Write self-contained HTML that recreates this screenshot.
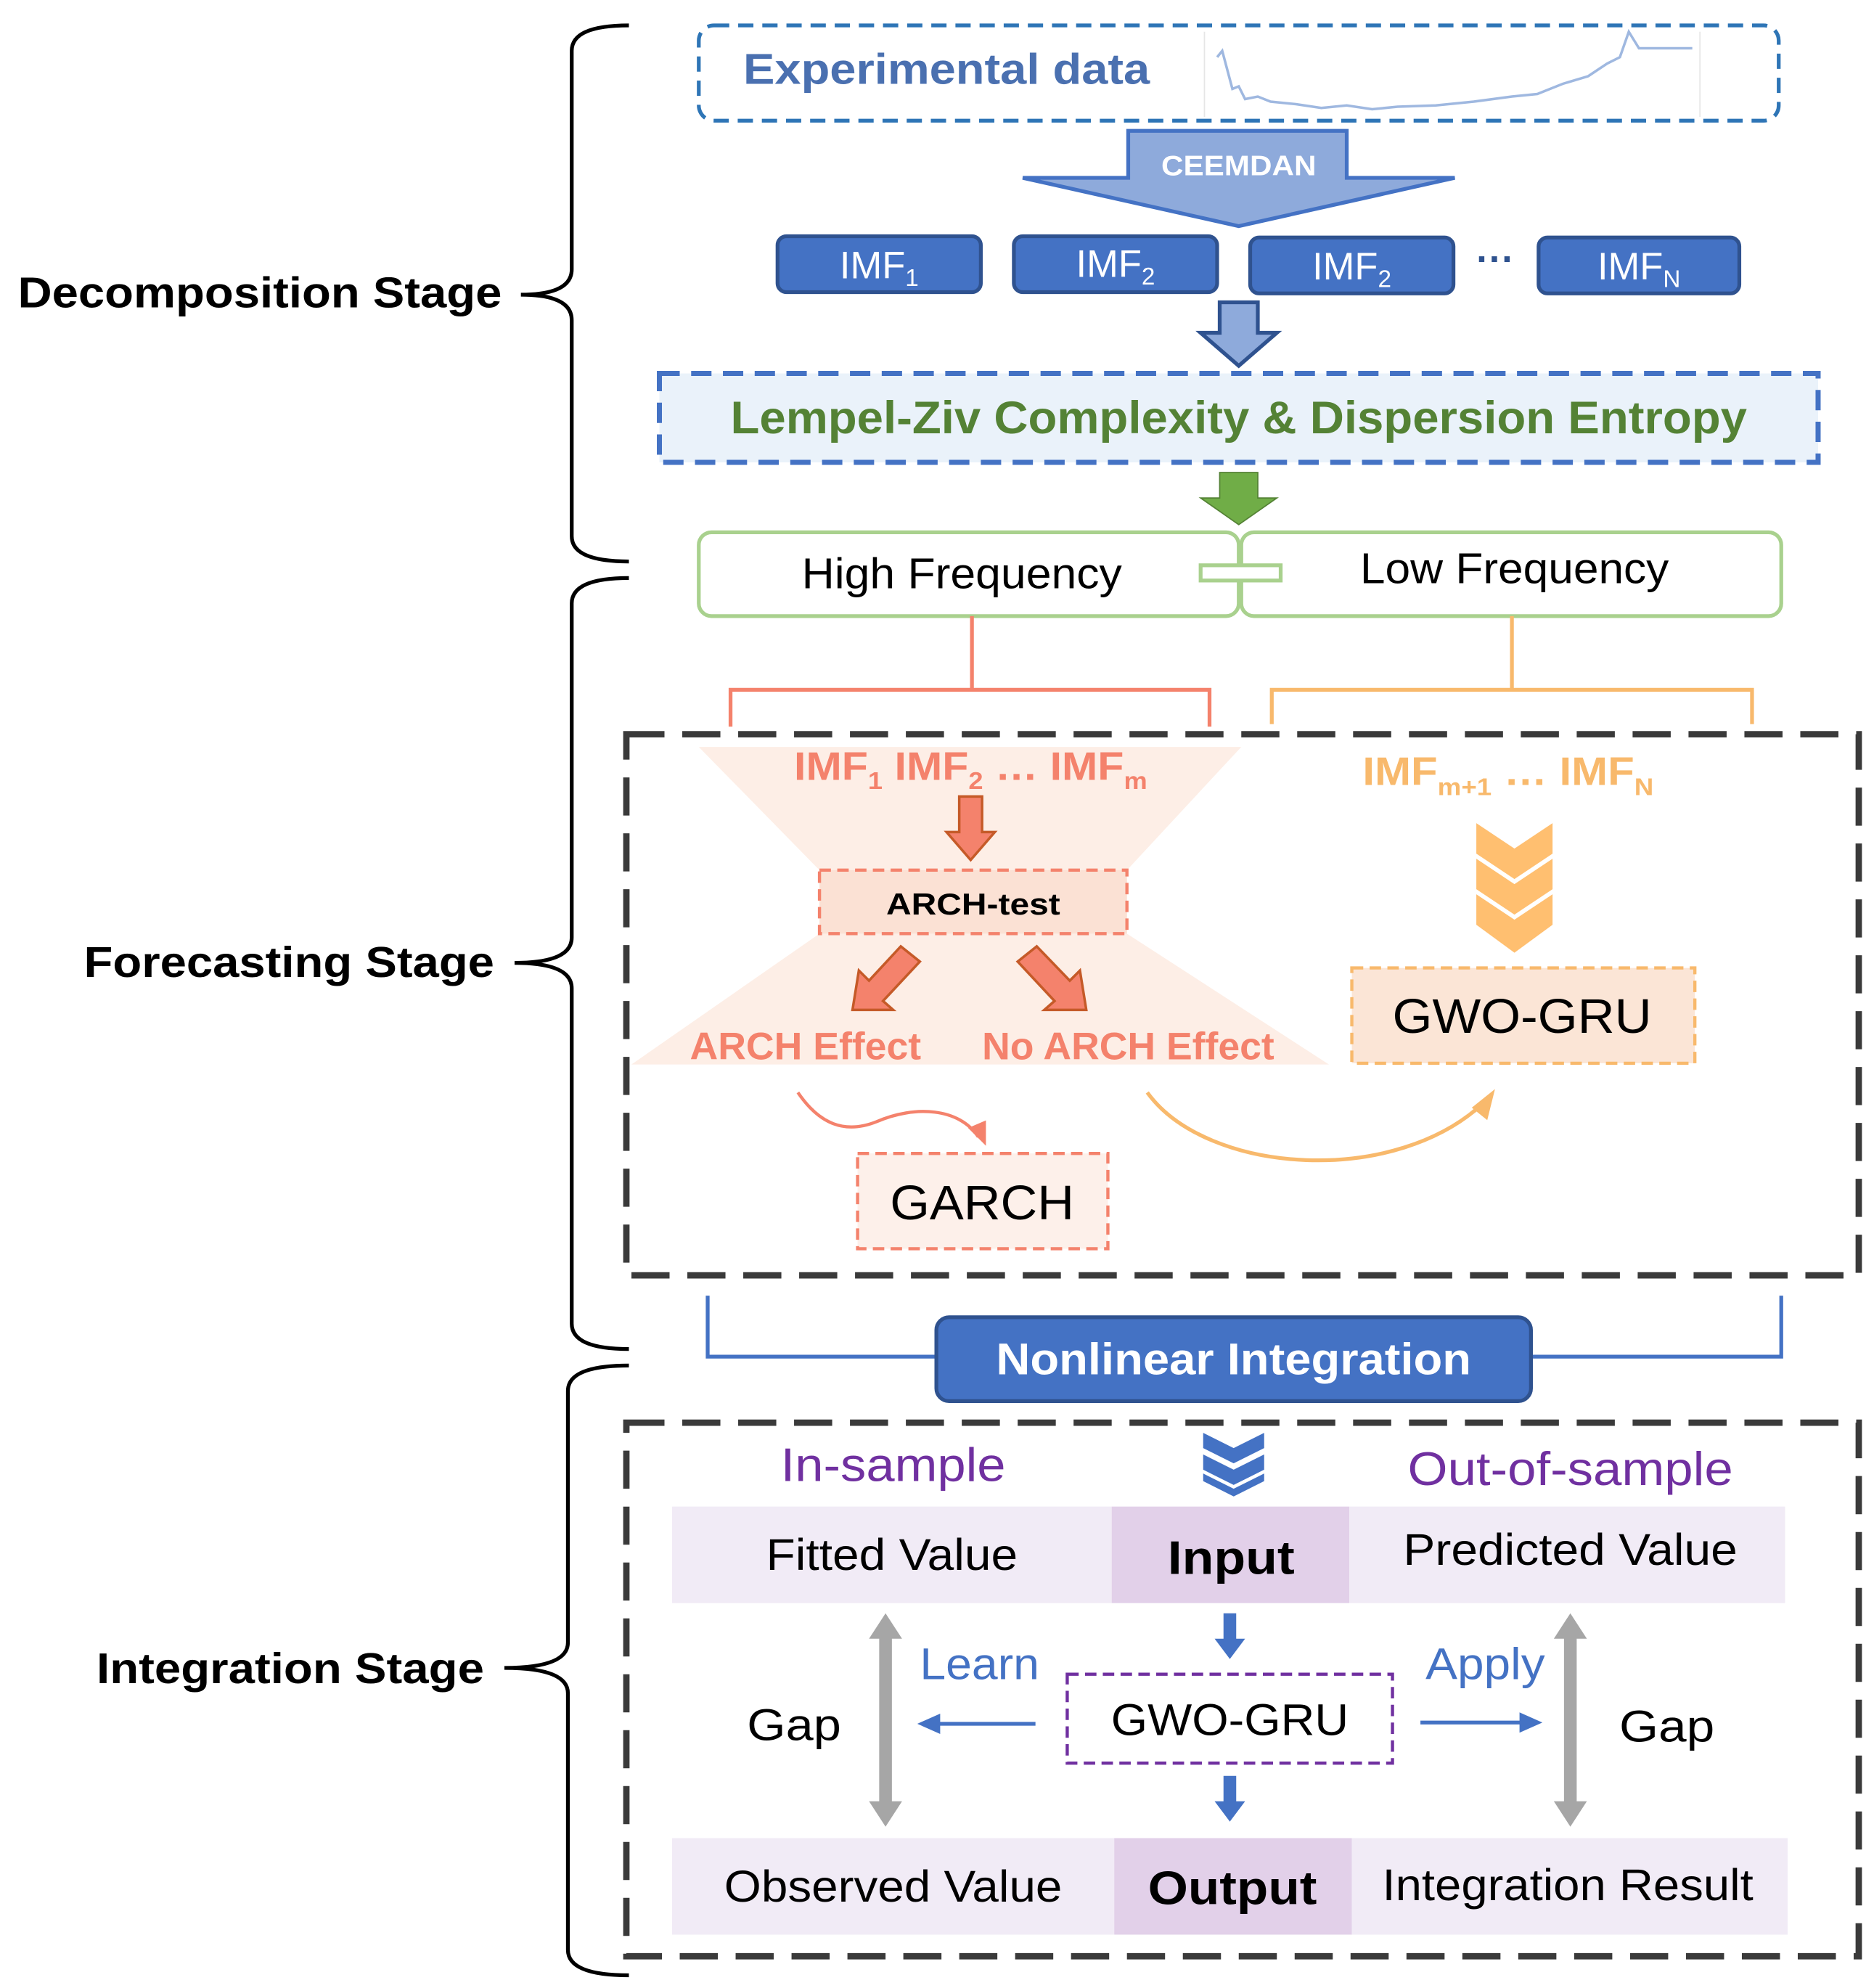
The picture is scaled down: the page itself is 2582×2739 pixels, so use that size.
<!DOCTYPE html>
<html><head><meta charset="utf-8"><style>
html,body{margin:0;padding:0;background:#fff}
svg{display:block}
text{font-family:"Liberation Sans",Arial,sans-serif}
</style></head><body>
<svg width="2582" height="2739" viewBox="0 0 1475 1565" preserveAspectRatio="none" xmlns="http://www.w3.org/2000/svg">
<!-- braces -->
<g fill="none" stroke="#000" stroke-width="3">
<path d="M495,20 Q450,20 450,40 L450,212 Q450,232 410,232 Q450,232 450,252 L450,422 Q450,442 495,442"/>
<path d="M495,455 Q450,455 450,475 L450,738 Q450,758 405,758 Q450,758 450,778 L450,1042 Q450,1062 495,1062"/>
<path d="M495,1075 Q447,1075 447,1095 L447,1293 Q447,1313 397,1313 Q447,1313 447,1333 L447,1535 Q447,1555 495,1555"/>
</g>
<g font-weight="bold" font-size="34" fill="#000" lengthAdjust="spacingAndGlyphs">
<text x="14" y="242" textLength="381" lengthAdjust="spacingAndGlyphs">Decomposition Stage</text>
<text x="66" y="769" textLength="323" lengthAdjust="spacingAndGlyphs">Forecasting Stage</text>
<text x="76" y="1325" textLength="305" lengthAdjust="spacingAndGlyphs">Integration Stage</text>
</g>
<!-- experimental data -->
<rect x="550" y="20" width="850" height="75" rx="12" fill="#fff" stroke="#2e75b6" stroke-width="3" stroke-dasharray="12 7"/>
<text x="585" y="66" font-size="34" font-weight="bold" fill="#4a70b0" textLength="320" lengthAdjust="spacingAndGlyphs">Experimental data</text>
<line x1="948" y1="25" x2="948" y2="92" stroke="#e6e6e6"/>
<line x1="1338" y1="25" x2="1338" y2="92" stroke="#e6e6e6"/>
<polyline fill="none" stroke="#9fb8e0" stroke-width="2" points="958,45 962,40 966,55 970,70 975,68 980,78 990,76 1000,80 1020,82 1040,85 1060,83 1080,86 1100,84 1130,83 1160,80 1190,76 1210,74 1230,66 1250,60 1265,50 1275,45 1282,25 1290,38 1310,38 1332,38"/>
<!-- CEEMDAN arrow -->
<polygon points="888,103 1060,103 1060,140 1145,140 975,178 805,140 888,140" fill="#8eaadb" stroke="#4472c4" stroke-width="3"/>
<text x="975" y="138" font-size="22" font-weight="bold" fill="#fff" text-anchor="middle" textLength="122" lengthAdjust="spacingAndGlyphs">CEEMDAN</text>
<!-- IMF boxes -->
<g fill="#4472c4" stroke="#2f528f" stroke-width="3">
<rect x="612" y="186" width="160" height="44" rx="7"/>
<rect x="798" y="186" width="160" height="44" rx="7"/>
<rect x="984" y="187" width="160" height="44" rx="7"/>
<rect x="1211" y="187" width="158" height="44" rx="7"/>
</g>
<g fill="#fff" font-size="30" text-anchor="middle">
<text x="692" y="219">IMF<tspan font-size="19" dy="6">1</tspan></text>
<text x="878" y="218">IMF<tspan font-size="19" dy="6">2</tspan></text>
<text x="1064" y="220">IMF<tspan font-size="19" dy="6">2</tspan></text>
<text x="1290" y="220">IMF<tspan font-size="19" dy="6">N</tspan></text>
</g>
<text x="1177" y="214" font-size="30" font-weight="bold" fill="#2f528f" text-anchor="middle">···</text>
<polygon points="960,238 990,238 990,262 1005,262 975,288 945,262 960,262" fill="#8eaadb" stroke="#2f528f" stroke-width="3"/>
<!-- Lempel -->
<rect x="519" y="294" width="912" height="70" fill="#eaf2fa" stroke="#4472c4" stroke-width="4" stroke-dasharray="16 9"/>
<text x="975" y="341" font-size="36" font-weight="bold" fill="#548235" text-anchor="middle" textLength="800" lengthAdjust="spacingAndGlyphs">Lempel-Ziv Complexity &amp; Dispersion Entropy</text>
<polygon points="960,372 990,372 990,392 1005,392 975,413 945,392 960,392" fill="#70ad47" stroke="#548235" stroke-width="1"/>
<!-- freq boxes -->
<rect x="550" y="419" width="425" height="66" rx="10" fill="#fff" stroke="#a9d18e" stroke-width="3"/>
<rect x="977" y="419" width="425" height="66" rx="10" fill="#fff" stroke="#a9d18e" stroke-width="3"/>
<rect x="945" y="445" width="63" height="12" fill="#fff" stroke="#a9d18e" stroke-width="3"/>
<text x="757" y="463" font-size="34" text-anchor="middle" textLength="252" lengthAdjust="spacingAndGlyphs">High Frequency</text>
<text x="1192" y="459" font-size="34" text-anchor="middle" textLength="243" lengthAdjust="spacingAndGlyphs">Low Frequency</text>
<polyline points="765,485 765,543 575,543 575,572" fill="none" stroke="#f4826c" stroke-width="3"/>
<polyline points="765,543 952,543 952,572" fill="none" stroke="#f4826c" stroke-width="3"/>
<polyline points="1190,485 1190,543 1001,543 1001,570" fill="none" stroke="#f8b96c" stroke-width="3"/>
<polyline points="1190,543 1379,543 1379,570" fill="none" stroke="#f8b96c" stroke-width="3"/>
<!-- forecasting box -->
<rect x="493" y="578" width="970" height="426" fill="none" stroke="#3a3a3a" stroke-width="5" stroke-dasharray="30 14"/>
<polygon points="550,588 977,588 887,685 887,735 1046,838 497,838 645,735 645,685" fill="#fdeee6"/>
<rect x="645" y="685" width="242" height="50" fill="#fbe1d4" stroke="#f4826c" stroke-width="2.5" stroke-dasharray="9 5"/>
<text x="766" y="720" font-size="24" font-weight="bold" text-anchor="middle" textLength="137" lengthAdjust="spacingAndGlyphs">ARCH-test</text>
<text x="764" y="614" font-size="31" font-weight="bold" fill="#f4826c" text-anchor="middle" textLength="278" lengthAdjust="spacingAndGlyphs">IMF<tspan font-size="19" dy="7">1</tspan><tspan dy="-7"> IMF</tspan><tspan font-size="19" dy="7">2</tspan><tspan dy="-7"> … IMF</tspan><tspan font-size="19" dy="7">m</tspan></text>
<polygon points="755,627 773,627 773,655 783,655 764,677 745,655 755,655" fill="#f4826c" stroke="#c55a28" stroke-width="2"/>
<polygon points="709,745 724,757 695,788 703,795 671,795 676,764 684,772" fill="#f4826c" stroke="#c55a28" stroke-width="2"/>
<polygon points="816,745 801,757 830,788 822,795 855,795 850,764 842,772" fill="#f4826c" stroke="#c55a28" stroke-width="2"/>
<text x="634" y="834" font-size="30" font-weight="bold" fill="#f4826c" text-anchor="middle" textLength="182" lengthAdjust="spacingAndGlyphs">ARCH Effect</text>
<text x="888" y="834" font-size="30" font-weight="bold" fill="#f4826c" text-anchor="middle" textLength="230" lengthAdjust="spacingAndGlyphs">No ARCH Effect</text>
<path d="M628,860 C645,885 665,893 690,883 C720,870 755,872 770,895" fill="none" stroke="#f4826c" stroke-width="2.5"/>
<polygon points="762,888 776,902 776,882" fill="#f4826c"/>
<path d="M903,860 C950,925 1100,935 1170,866" fill="none" stroke="#f8b96c" stroke-width="3"/>
<polygon points="1160,872 1175,860 1170,880" fill="#f8b96c" stroke="#f8b96c" stroke-width="2"/>
<rect x="675" y="908" width="197" height="75" fill="#fdf0ea" stroke="#f4826c" stroke-width="2.5" stroke-dasharray="9 5"/>
<text x="773" y="960" font-size="38" text-anchor="middle" textLength="145" lengthAdjust="spacingAndGlyphs">GARCH</text>
<text x="1187" y="618" font-size="31" font-weight="bold" fill="#f8b96c" text-anchor="middle" textLength="229" lengthAdjust="spacingAndGlyphs">IMF<tspan font-size="19" dy="8">m+1</tspan><tspan dy="-8"> … IMF</tspan><tspan font-size="19" dy="8">N</tspan></text>
<g fill="#ffbf70">
<polygon points="1162,648 1192,668 1222,648 1222,672 1192,692 1162,672"/>
<polygon points="1162,672 1192,692 1222,672 1222,696 1192,716 1162,696" transform="translate(0,4)"/>
<polygon points="1162,696 1192,716 1222,696 1222,720 1192,742 1162,720" transform="translate(0,8)"/>
</g>
<rect x="1064" y="762" width="270" height="75" fill="#fbe5d6" stroke="#f8b96c" stroke-width="2.5" stroke-dasharray="9 5"/>
<text x="1198" y="813" font-size="38" text-anchor="middle" textLength="204" lengthAdjust="spacingAndGlyphs">GWO-GRU</text>
<!-- nonlinear -->
<polyline points="557,1020 557,1068 1402,1068 1402,1020" fill="none" stroke="#4472c4" stroke-width="3"/>
<rect x="737" y="1037" width="468" height="66" rx="10" fill="#4472c4" stroke="#2f528f" stroke-width="3"/>
<text x="971" y="1082" font-size="35" font-weight="bold" fill="#fff" text-anchor="middle" textLength="374" lengthAdjust="spacingAndGlyphs">Nonlinear Integration</text>
<!-- integration box -->
<rect x="493" y="1120" width="970" height="420" fill="none" stroke="#3a3a3a" stroke-width="5" stroke-dasharray="30 14"/>
<g fill="#4472c4">
<polygon points="947,1128 971,1140 995,1128 995,1140 971,1152 947,1140"/>
<polygon points="947,1145 971,1157 995,1145 995,1157 971,1169 947,1157"/>
<polygon points="947,1160 971,1172 995,1160 995,1166 971,1178 947,1166"/>
</g>
<text x="703" y="1166" font-size="37" fill="#7030a0" text-anchor="middle" textLength="177" lengthAdjust="spacingAndGlyphs">In-sample</text>
<text x="1236" y="1169" font-size="37" fill="#7030a0" text-anchor="middle" textLength="256" lengthAdjust="spacingAndGlyphs">Out-of-sample</text>
<rect x="529" y="1186" width="346" height="76" fill="#f1ebf6"/>
<rect x="875" y="1186" width="187" height="76" fill="#e2d0e9"/>
<rect x="1062" y="1186" width="343" height="76" fill="#f1ebf6"/>
<rect x="529" y="1447" width="348" height="76" fill="#f1ebf6"/>
<rect x="877" y="1447" width="187" height="76" fill="#e2d0e9"/>
<rect x="1064" y="1447" width="343" height="76" fill="#f1ebf6"/>
<rect x="840" y="1318" width="256" height="70" fill="#fff" stroke="#7030a0" stroke-width="2.5" stroke-dasharray="9 5"/>
<g font-size="35" text-anchor="middle">
<text x="702" y="1236" textLength="198" lengthAdjust="spacingAndGlyphs">Fitted Value</text>
<text x="969" y="1239" font-weight="bold" font-size="37" textLength="100" lengthAdjust="spacingAndGlyphs">Input</text>
<text x="1236" y="1232" textLength="263" lengthAdjust="spacingAndGlyphs">Predicted Value</text>
<text x="703" y="1497" textLength="266" lengthAdjust="spacingAndGlyphs">Observed Value</text>
<text x="970" y="1499" font-weight="bold" font-size="37" textLength="133" lengthAdjust="spacingAndGlyphs">Output</text>
<text x="1234" y="1496" textLength="292" lengthAdjust="spacingAndGlyphs">Integration Result</text>
<text x="625" y="1370" textLength="74" lengthAdjust="spacingAndGlyphs">Gap</text>
<text x="1312" y="1371" textLength="75" lengthAdjust="spacingAndGlyphs">Gap</text>
<text x="968" y="1366" textLength="187" lengthAdjust="spacingAndGlyphs">GWO-GRU</text>
</g>
<g fill="#a6a6a6">
<polygon points="697,1270 710,1290 702,1290 702,1418 710,1418 697,1438 684,1418 692,1418 692,1290 684,1290"/>
<polygon points="1236,1270 1249,1290 1241,1290 1241,1418 1249,1418 1236,1438 1223,1418 1231,1418 1231,1290 1223,1290"/>
</g>
<g fill="#4472c4">
<polygon points="963,1270 973,1270 973,1290 980,1290 968,1306 956,1290 963,1290"/>
<polygon points="963,1398 973,1398 973,1418 980,1418 968,1434 956,1418 963,1418"/>
</g>
<text x="771" y="1322" font-size="35" fill="#4472c4" text-anchor="middle" textLength="94" lengthAdjust="spacingAndGlyphs">Learn</text>
<text x="1169" y="1322" font-size="35" fill="#4472c4" text-anchor="middle" textLength="94" lengthAdjust="spacingAndGlyphs">Apply</text>
<line x1="815" y1="1357" x2="735" y2="1357" stroke="#4472c4" stroke-width="3"/>
<polygon points="722,1357 740,1349 740,1365" fill="#4472c4"/>
<line x1="1118" y1="1356" x2="1200" y2="1356" stroke="#4472c4" stroke-width="3"/>
<polygon points="1214,1356 1196,1348 1196,1364" fill="#4472c4"/>
</svg>
</body></html>
